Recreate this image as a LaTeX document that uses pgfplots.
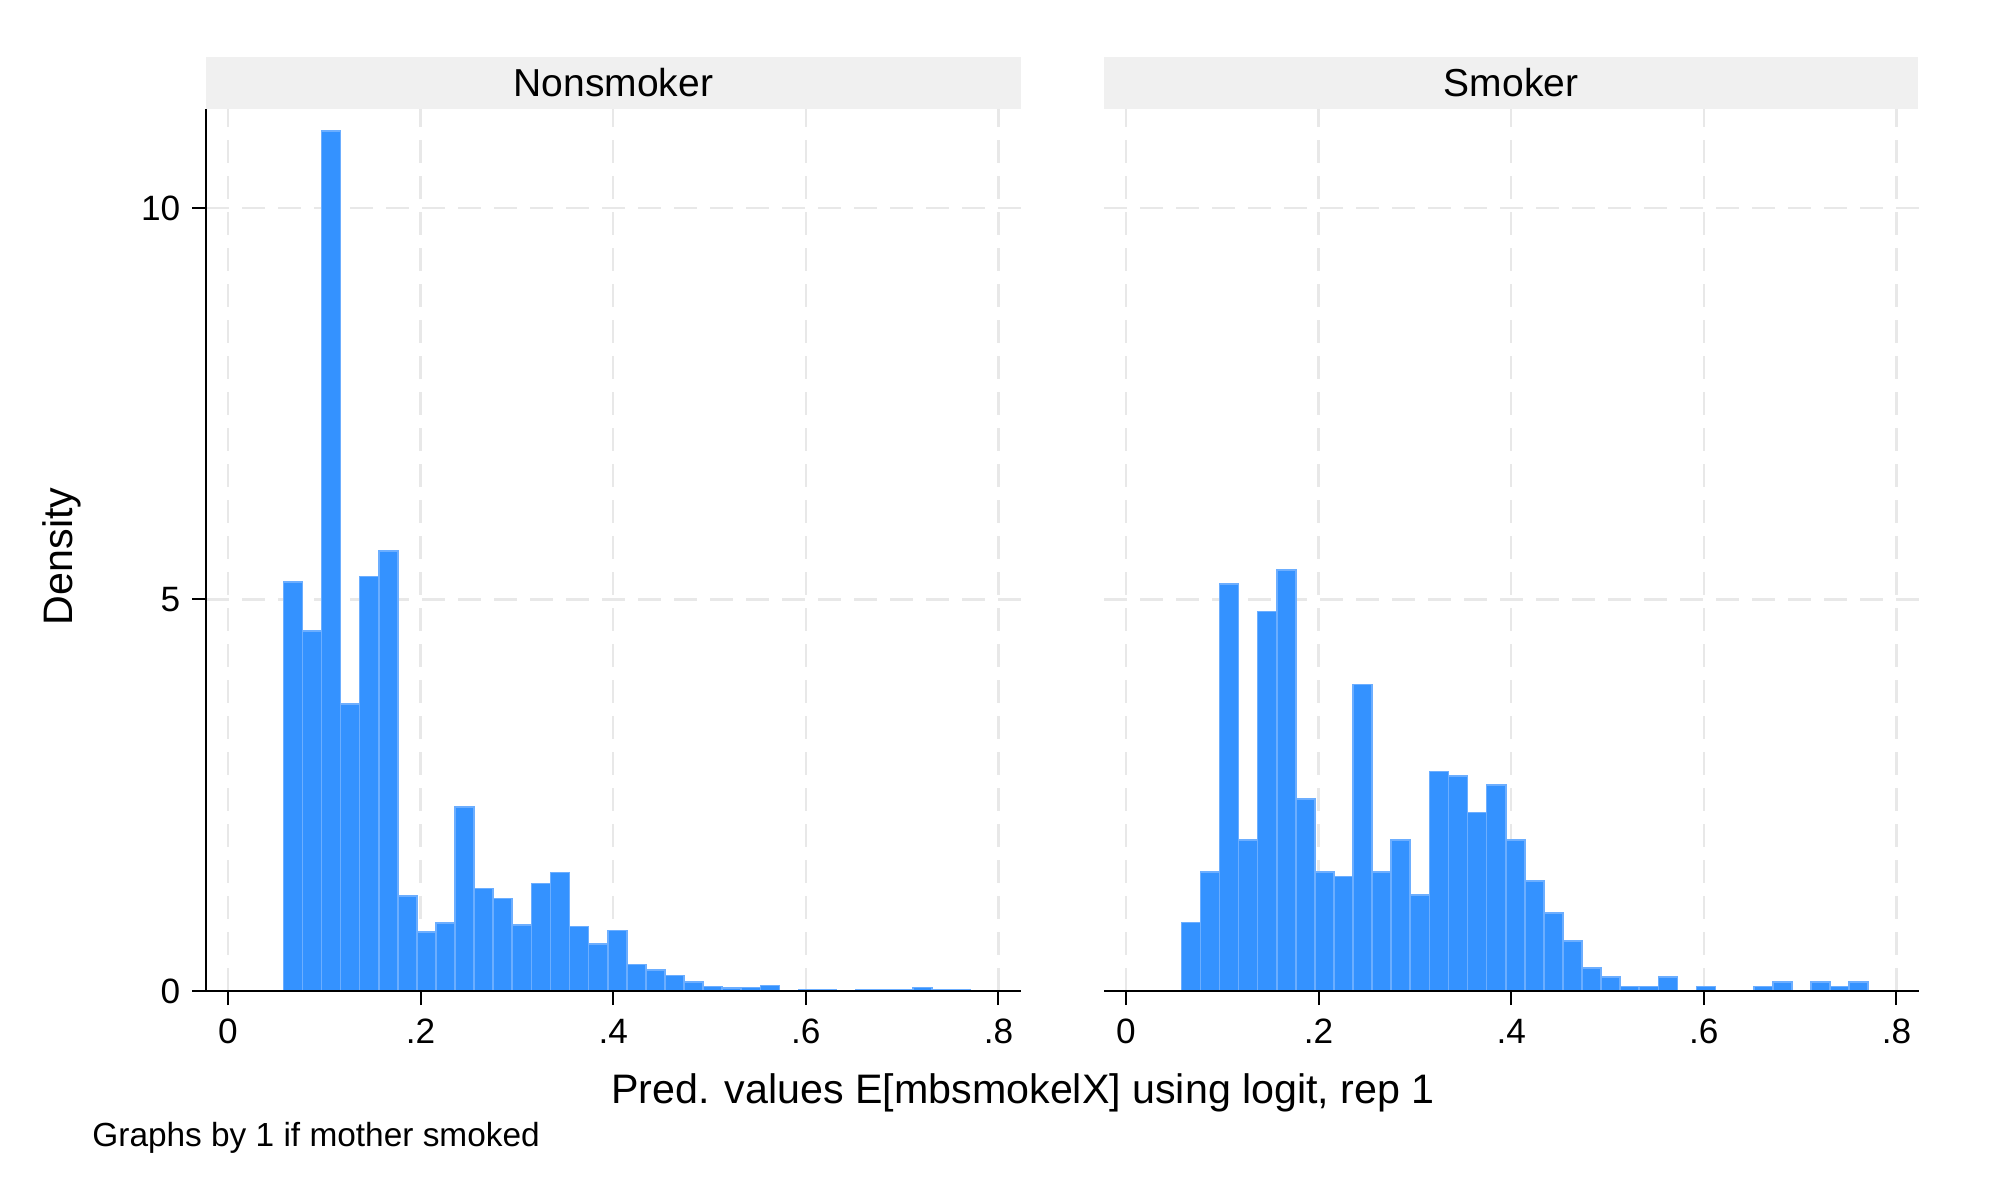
\documentclass[border=0pt]{standalone}
\usepackage{fontspec}
\setmainfont{Liberation Sans}
\usepackage{pgfplots}
\usepackage{pgfplotstable}
\pgfplotsset{compat=1.18}

\definecolor{barfill}{RGB}{52,146,255}
\definecolor{baredge}{RGB}{108,174,255}
\definecolor{gridc}{RGB}{232,232,232}
\definecolor{hdr}{RGB}{240,240,240}

% bin left edges and densities (last row = right edge of last bin)
\pgfplotstableread{
x y
0.0575 5.227
0.0773 4.598
0.0971 10.985
0.1169 3.667
0.1367 5.295
0.1566 5.621
0.1764 1.212
0.1962 0.750
0.2160 0.871
0.2358 2.348
0.2556 1.311
0.2754 1.182
0.2952 0.841
0.3150 1.371
0.3348 1.515
0.3547 0.826
0.3745 0.598
0.3943 0.773
0.4141 0.341
0.4339 0.265
0.4537 0.200
0.4735 0.112
0.4933 0.060
0.5131 0.036
0.5329 0.046
0.5528 0.072
0.5726 0
0.5924 0.021
0.6122 0.021
0.6320 0
0.6518 0.013
0.6716 0.013
0.6914 0.013
0.7112 0.047
0.7310 0.021
0.7509 0.013
0.7707 0
}\nonsmoker

\pgfplotstableread{
x y
0.0575 0.876
0.0773 1.518
0.0971 5.198
0.1169 1.927
0.1367 4.847
0.1566 5.373
0.1764 2.453
0.1962 1.518
0.2160 1.460
0.2358 3.913
0.2556 1.518
0.2754 1.927
0.2952 1.226
0.3150 2.803
0.3348 2.745
0.3547 2.278
0.3745 2.628
0.3943 1.927
0.4141 1.402
0.4339 0.993
0.4537 0.642
0.4735 0.292
0.4933 0.175
0.5131 0.058
0.5329 0.058
0.5528 0.175
0.5726 0
0.5924 0.058
0.6122 0
0.6320 0
0.6518 0.058
0.6716 0.117
0.6914 0
0.7112 0.117
0.7310 0.058
0.7509 0.117
0.7707 0
}\smoker

\pgfplotsset{
  panel/.style={
    scale only axis, width=203.7pt, height=220.5pt,
    anchor=south west, clip=false,
    xmin=-0.0228, xmax=0.8232, ymin=0, ymax=11.264,
    xtick={0,0.2,0.4,0.6,0.8}, xticklabels={0,.2,.4,.6,.8},
    ytick={0,5,10},
    axis x line*=bottom, axis y line*=left,
    grid=major,
    major grid style={draw=gridc, line width=0.6pt, dash pattern=on 5.75pt off 3.25pt},
    axis line style={line width=0.5pt, black},
    tick style={black, line width=0.5pt},
    tick align=outside, major tick length=3.5pt,
    ticklabel style={font=\fontsize{8.8}{10}\selectfont},
    yticklabel style={xshift=0.6pt},
  },
  hbar/.style={ybar interval, fill=barfill, draw=baredge, line width=0.4pt},
}

\begin{document}
\begin{tikzpicture}
\path[use as bounding box] (0,0) rectangle (501pt,300.5pt);

\begin{axis}[panel, at={(51.5pt,52.75pt)}, yticklabels={0,5,10}]
\addplot[hbar] table[x=x,y=y] {\nonsmoker};
\draw[black, line width=0.5pt] (rel axis cs:0,0) -- (rel axis cs:1,0);
\end{axis}

\begin{axis}[panel, at={(276pt,52.75pt)}, yticklabels={},
  y axis line style={draw=none}, ytick style={draw=none}]
\addplot[hbar] table[x=x,y=y] {\smoker};
\draw[black, line width=0.5pt] (rel axis cs:0,0) -- (rel axis cs:1,0);
\end{axis}

% panel headers
\fill[hdr] (51.5pt,273.25pt) rectangle (255.2pt,286.25pt);
\fill[hdr] (276pt,273.25pt) rectangle (479.5pt,286.25pt);
\node[font=\fontsize{9.75}{11}\selectfont] at (153.35pt,279.75pt) {Nonsmoker};
\node[font=\fontsize{9.75}{11}\selectfont] at (377.75pt,279.75pt) {Smoker};

% axis titles and note
\node[font=\fontsize{10.3}{12}\selectfont, anchor=base] at (255.75pt,24.6pt) {Pred. values E[mbsmokelX] using logit, rep 1};
\node[font=\fontsize{10.3}{12}\selectfont, rotate=90] at (15.5pt,161.4pt) {Density};
\node[font=\fontsize{8.35}{10}\selectfont, anchor=base west, inner sep=0pt] at (22.9pt,13.85pt) {Graphs by 1 if mother smoked};
\end{tikzpicture}
\end{document}
